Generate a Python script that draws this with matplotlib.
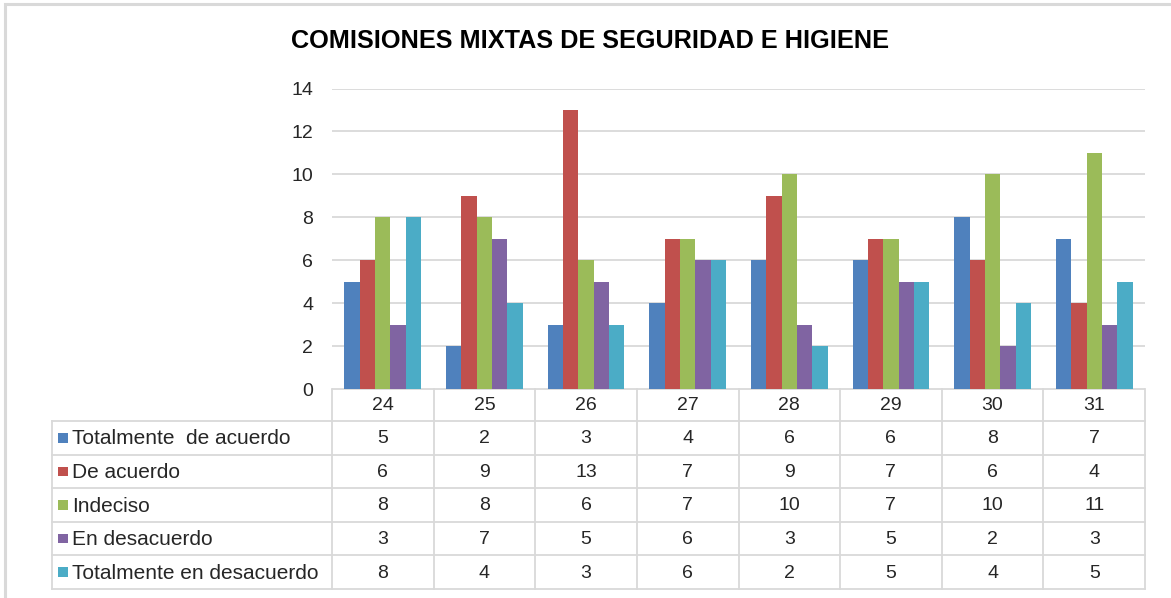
import matplotlib
matplotlib.use("Agg")
import matplotlib.pyplot as plt
from matplotlib.patches import Rectangle
import numpy as np

plt.rcParams['font.family'] = ['Liberation Sans', 'DejaVu Sans']

title = "COMISIONES MIXTAS DE SEGURIDAD E HIGIENE"
categories = ["24", "25", "26", "27", "28", "29", "30", "31"]
series_names = ["Totalmente  de acuerdo", "De acuerdo", "Indeciso",
                "En desacuerdo", "Totalmente en desacuerdo"]
totalmente_de_acuerdo = [5, 2, 3, 4, 6, 6, 8, 7]
de_acuerdo = [6, 9, 13, 7, 9, 7, 6, 4]
indeciso = [8, 8, 6, 7, 10, 7, 10, 11]
en_desacuerdo = [3, 7, 5, 6, 3, 5, 2, 3]
totalmente_en_desacuerdo = [8, 4, 3, 6, 2, 5, 4, 5]
series_values = [totalmente_de_acuerdo, de_acuerdo, indeciso,
                 en_desacuerdo, totalmente_en_desacuerdo]
colors = ["#4F81BD", "#C0504D", "#9BBB59", "#8064A2", "#4BACC6"]
y_ticks = [0, 2, 4, 6, 8, 10, 12, 14]

W, H = 1171, 598
fig = plt.figure(figsize=(W / 100, H / 100), dpi=100)
grid_c = "#D9D9D9"
txt_c = "#262626"
fs = 14
fs_label = 15

def fx(px):
    return px / W

def fy(py):
    return 1 - py / H

# outer border
fig.patches.append(Rectangle((fx(5), fy(700)), fx(1300), fy(4) - fy(700),
                             transform=fig.transFigure, fill=False,
                             edgecolor=grid_c, linewidth=2.2))

# bar axes
plot_l, plot_r, plot_t, plot_b = 332, 1145, 88.5, 389
ax = fig.add_axes([fx(plot_l), fy(plot_b), fx(plot_r - plot_l), fy(plot_t) - fy(plot_b)])
n = len(categories)
x = np.arange(n)
bw = 0.151
for j, (vals, c) in enumerate(zip(series_values, colors)):
    ax.bar(x + (j - 2) * bw, vals, width=bw, color=c, zorder=3, linewidth=0)
ax.set_xlim(-0.5, n - 0.5)
ax.set_ylim(0, 14)
ax.set_yticks(y_ticks)
ax.set_yticklabels([str(t) for t in y_ticks], fontsize=fs, color=txt_c)
ax.tick_params(axis='y', length=0, pad=13.5)
ax.set_xticks([])
ax.yaxis.grid(True, color=grid_c, linewidth=1.3, zorder=0)
for s in ['left', 'right', 'top', 'bottom']:
    ax.spines[s].set_visible(False)

# title
fig.text(fx(590), fy(41), title, ha='center', va='center', fontsize=18.2,
         fontweight='bold', color='black')

# data table axes
tab_l, tab_b = 52, 589
tax = fig.add_axes([fx(tab_l), fy(tab_b), fx(plot_r - tab_l), fy(plot_b) - fy(tab_b)])
unit_px = (plot_r - plot_l) / n
left_units = (plot_l - tab_l) / unit_px
x_left = -0.5 - left_units
tax.set_xlim(x_left, n - 0.5)
total_h = tab_b - plot_b
header_h = 32
row_h = (total_h - header_h) / len(series_names)
tax.set_ylim(total_h, 0)
tax.axis('off')

lw = 1.3
# horizontal lines
tax.plot([-0.5, n - 0.5], [0, 0], color=grid_c, lw=lw)
for r in range(len(series_names) + 1):
    yy = header_h + r * row_h
    tax.plot([x_left, n - 0.5], [yy, yy], color=grid_c, lw=lw, clip_on=False)
# vertical lines
for b in range(n + 1):
    tax.plot([b - 0.5, b - 0.5], [0, total_h], color=grid_c, lw=lw, clip_on=False)
tax.plot([x_left, x_left], [header_h, total_h], color=grid_c, lw=lw, clip_on=False)

# header
for i, cat in enumerate(categories):
    tax.text(i, header_h / 2 + 1, cat, ha='center', va='center', fontsize=fs, color=txt_c)

# rows
sq = 9.5 / unit_px
for r, (name, vals, c) in enumerate(zip(series_names, series_values, colors)):
    yc = header_h + (r + 0.5) * row_h
    tax.add_patch(Rectangle((x_left + 6 / unit_px, yc - 4.75), sq, 9.5,
                            facecolor=c, edgecolor='none', clip_on=False))
    tax.text(x_left + 20 / unit_px, yc + 1, name, ha='left', va='center',
             fontsize=fs_label, color=txt_c)
    for i, v in enumerate(vals):
        tax.text(i, yc + 1, str(v), ha='center', va='center', fontsize=fs, color=txt_c)

fig.savefig("out.png", dpi=100, facecolor='white')
